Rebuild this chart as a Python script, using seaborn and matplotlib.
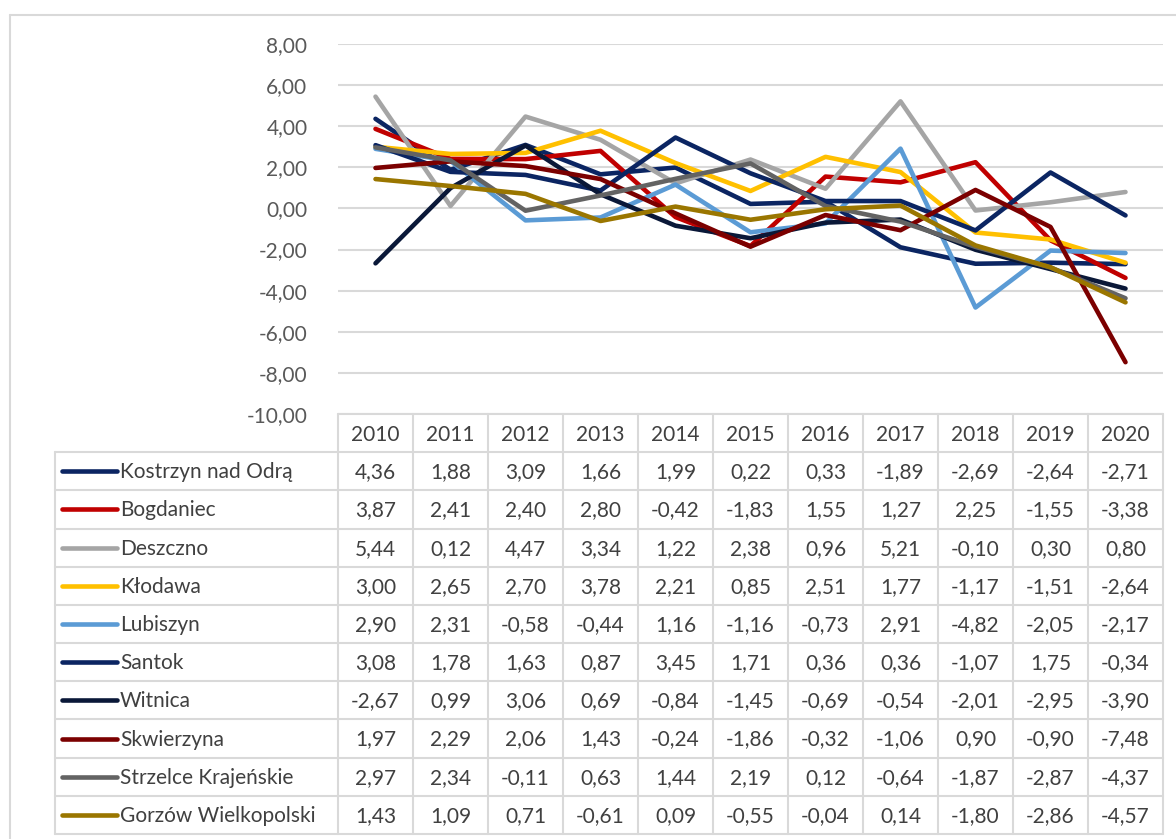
import matplotlib
matplotlib.use("Agg")
import matplotlib.pyplot as plt
from matplotlib.lines import Line2D
import seaborn as sns
import pandas as pd

years = [2010, 2011, 2012, 2013, 2014, 2015, 2016, 2017, 2018, 2019, 2020]

kostrzyn = [4.36, 1.88, 3.09, 1.66, 1.99, 0.22, 0.33, -1.89, -2.69, -2.64, -2.71]
bogdaniec = [3.87, 2.41, 2.40, 2.80, -0.42, -1.83, 1.55, 1.27, 2.25, -1.55, -3.38]
deszczno = [5.44, 0.12, 4.47, 3.34, 1.22, 2.38, 0.96, 5.21, -0.10, 0.30, 0.80]
klodawa = [3.00, 2.65, 2.70, 3.78, 2.21, 0.85, 2.51, 1.77, -1.17, -1.51, -2.64]
lubiszyn = [2.90, 2.31, -0.58, -0.44, 1.16, -1.16, -0.73, 2.91, -4.82, -2.05, -2.17]
santok = [3.08, 1.78, 1.63, 0.87, 3.45, 1.71, 0.36, 0.36, -1.07, 1.75, -0.34]
witnica = [-2.67, 0.99, 3.06, 0.69, -0.84, -1.45, -0.69, -0.54, -2.01, -2.95, -3.90]
skwierzyna = [1.97, 2.29, 2.06, 1.43, -0.24, -1.86, -0.32, -1.06, 0.90, -0.90, -7.48]
strzelce = [2.97, 2.34, -0.11, 0.63, 1.44, 2.19, 0.12, -0.64, -1.87, -2.87, -4.37]
gorzow = [1.43, 1.09, 0.71, -0.61, 0.09, -0.55, -0.04, 0.14, -1.80, -2.86, -4.57]

names = ["Kostrzyn nad Odrą", "Bogdaniec", "Deszczno", "Kłodawa", "Lubiszyn",
         "Santok", "Witnica", "Skwierzyna", "Strzelce Krajeńskie", "Gorzów Wielkopolski"]
series = [kostrzyn, bogdaniec, deszczno, klodawa, lubiszyn,
          santok, witnica, skwierzyna, strzelce, gorzow]
colors = ["#0B2562", "#C00000", "#A5A5A5", "#FFC000", "#5B9BD5",
          "#0B2562", "#0A1838", "#7B0000", "#636363", "#9A7600"]

rows = []
for name, vals in zip(names, series):
    for i, (yr, v) in enumerate(zip(years, vals)):
        rows.append({"gmina": name, "idx": i, "rok": yr, "wartosc": v})
df = pd.DataFrame(rows)

sns.set_style("white")
plt.rcParams["font.family"] = ["Lato", "DejaVu Sans"]

W, H = 1176, 839
FS = 15
fig = plt.figure(figsize=(W / 100, H / 100), dpi=100)

def px_axes(x0, y0, x1, y1):
    return fig.add_axes([x0 / W, 1 - y1 / H, (x1 - x0) / W, (y1 - y0) / H])

# outer chart border
fig.add_artist(Line2D([10 / W, 1], [1 - 15 / H, 1 - 15 / H], color="#D9D9D9", lw=1.5))
fig.add_artist(Line2D([10 / W, 10 / W], [0, 1 - 15 / H], color="#D9D9D9", lw=1.5))

left, right, top, bottom = 338, 1163, 44, 414
ax = px_axes(left, top, right, bottom)
sns.lineplot(data=df, x="idx", y="wartosc", hue="gmina", hue_order=names,
             palette=dict(zip(names, colors)), linewidth=3.3, ax=ax,
             legend=False, solid_joinstyle="round", solid_capstyle="round")
ax.set_xlim(-0.5, len(years) - 0.5)
ax.set_ylim(-10, 8)
ax.set_yticks(range(-10, 9, 2))
ax.set_yticklabels([f"{t:.2f}".replace(".", ",") for t in range(-10, 9, 2)],
                   color="#595959", fontsize=FS)
ax.tick_params(axis="y", length=0, pad=22)
ax.set_xticks([])
ax.set_xlabel("")
ax.set_ylabel("")
ax.grid(axis="y", color="#D9D9D9", lw=1.5)
ax.set_axisbelow(True)
for s in ax.spines.values():
    s.set_visible(False)

# data table under the plot
tab_left, tab_top, tab_bottom = 55, 414, 834
tax = px_axes(tab_left, tab_top, right, tab_bottom + 2)
tax.set_xlim(tab_left, right)
tax.set_ylim(tab_bottom + 2, tab_top)
tax.axis("off")

col_w = (right - left) / len(years)
n_rows = len(names) + 1
row_h = (tab_bottom - tab_top) / n_rows
gc = "#D9D9D9"
tax.plot([left, right], [tab_top, tab_top], color=gc, lw=1.5, clip_on=False)
for r in range(1, n_rows + 1):
    y = tab_top + r * row_h
    tax.plot([tab_left, right], [y, y], color=gc, lw=1.5, clip_on=False)
tax.plot([tab_left, tab_left], [tab_top + row_h, tab_bottom], color=gc, lw=1.5, clip_on=False)
for c in range(len(years) + 1):
    x = left + c * col_w
    tax.plot([x, x], [tab_top, tab_bottom], color=gc, lw=1.5, clip_on=False)

for c, yr in enumerate(years):
    tax.text(left + (c + 0.5) * col_w, tab_top + 0.55 * row_h, str(yr),
             ha="center", va="center", fontsize=FS, color="#404040")

for r, (name, vals, col) in enumerate(zip(names, series, colors)):
    yc = tab_top + (r + 1.5) * row_h
    tax.plot([62, 117], [yc, yc], color=col, lw=3.3, solid_capstyle="round")
    tax.text(120, yc + 1, name, ha="left", va="center", fontsize=FS, color="#404040")
    for c, v in enumerate(vals):
        tax.text(left + (c + 0.5) * col_w, yc + 1, f"{v:.2f}".replace(".", ","),
                 ha="center", va="center", fontsize=FS, color="#404040")

fig.savefig("out.png", dpi=100)
